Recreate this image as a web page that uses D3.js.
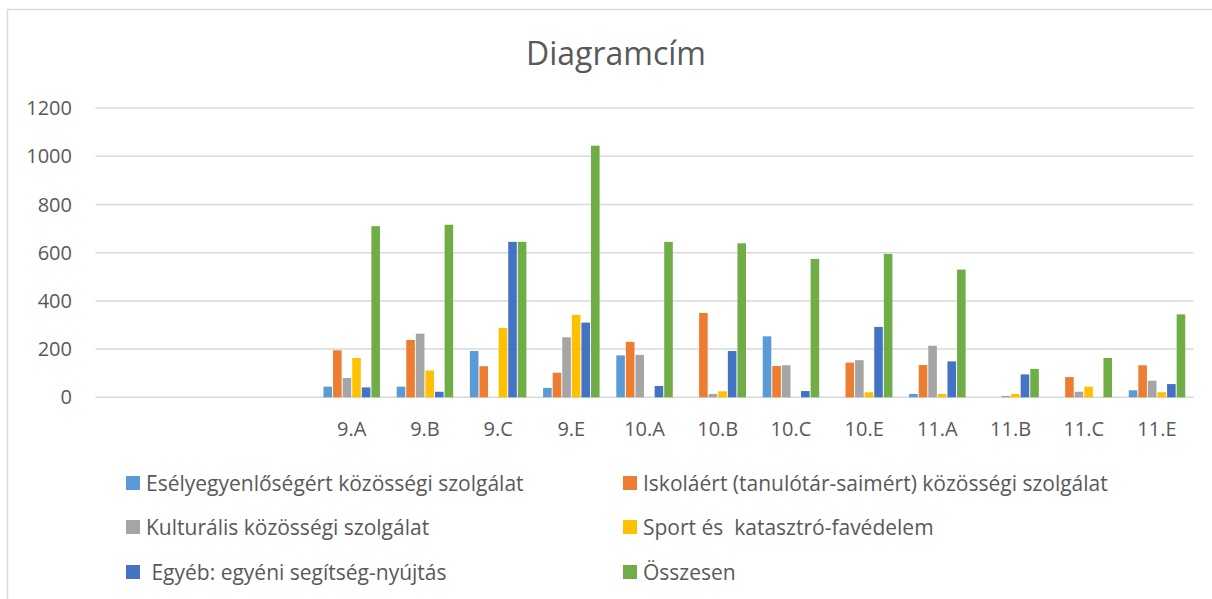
<!DOCTYPE html>
<html>
<head>
<meta charset="utf-8">
<script src="https://cdn.jsdelivr.net/npm/d3@7"></script>
<style>
  body { margin: 0; background: #fff; }
  text { font-family: "Open Sans", "Noto Sans", sans-serif; fill: #595959; white-space: pre; }
</style>
</head>
<body>
<div id="chart"></div>
<script>
// categories (first three are blank in the original sheet)
var categories = ['', ' ', '  ', '9.A', '9.B', '9.C', '9.E', '10.A', '10.B', '10.C', '10.E', '11.A', '11.B', '11.C', '11.E'];
var seriesNames = [
  'Esélyegyenlőségért közösségi szolgálat',
  'Iskoláért (tanulótár-saimért) közösségi szolgálat',
  'Kulturális közösségi szolgálat',
  'Sport és  katasztró-favédelem',
  ' Egyéb: egyéni segítség-nyújtás',
  'Összesen'
];
var colors = ['#5B9BD5', '#ED7D31', '#A5A5A5', '#FFC000', '#4472C4', '#70AD47'];

var esely    = [0, 0, 0, 44, 44, 192, 39, 174, 0, 253, 0, 14, 0, 0, 29];
var iskola   = [0, 0, 0, 195, 238, 129, 102, 230, 350, 130, 144, 134, 0, 84, 133];
var kultura  = [0, 0, 0, 80, 264, 0, 249, 176, 14, 133, 154, 214, 6, 23, 69];
var sport    = [0, 0, 0, 163, 111, 288, 342, 0, 25, 0, 21, 14, 14, 44, 21];
var egyeb    = [0, 0, 0, 41, 23, 645, 310, 47, 192, 26, 292, 149, 95, 0, 55];
var osszesen = [0, 0, 0, 710, 716, 645, 1044, 645, 639, 574, 595, 530, 118, 163, 344];

var yTicks = [0, 200, 400, 600, 800, 1000, 1200];

var seriesValues = [esely, iskola, kultura, sport, egyeb, osszesen];

var W = 1212, H = 599;
var svg = d3.select('#chart').append('svg')
  .attr('width', W).attr('height', H);

// chart frame (runs off the right and bottom like the screenshot)
svg.append('rect')
  .attr('x', 7.5).attr('y', 9.5)
  .attr('width', W + 20).attr('height', H + 20)
  .attr('fill', 'none').attr('stroke', '#D9D9D9').attr('stroke-width', 1.5);

svg.append('text')
  .attr('x', 616).attr('y', 65)
  .attr('text-anchor', 'middle')
  .style('font-size', '32px')
  .text('Diagramcím');

var x0 = d3.scaleBand().domain(categories).range([95.5, 1193.6]);
var x1 = d3.scaleBand().domain(d3.range(seriesNames.length))
  .range([0, x0.bandwidth()]).paddingOuter(0.82);
var y = d3.scaleLinear().domain([0, 1200]).range([397.3, 108.1]);

// gridlines
svg.append('g').selectAll('line')
  .data(yTicks)
  .enter().append('line')
  .attr('x1', 95.5).attr('x2', 1193.6)
  .attr('y1', function (d) { return y(d); })
  .attr('y2', function (d) { return y(d); })
  .attr('stroke', '#D9D9D9').attr('stroke-width', 1.5);

// y tick labels
svg.append('g').selectAll('text')
  .data(yTicks)
  .enter().append('text')
  .attr('x', 72).attr('y', function (d) { return y(d) + 7; })
  .attr('text-anchor', 'end')
  .style('font-size', '20px')
  .text(function (d) { return d; });

// bars
var groups = svg.append('g').selectAll('g')
  .data(categories)
  .enter().append('g')
  .attr('transform', function (d) { return 'translate(' + x0(d) + ',0)'; });

groups.selectAll('rect')
  .data(function (d, ci) {
    return seriesValues.map(function (vals, si) { return { s: si, v: vals[ci] }; })
      .filter(function (e) { return e.v > 0; });
  })
  .enter().append('rect')
  .attr('x', function (d) { return x1(d.s) + 0.5; })
  .attr('width', x1.bandwidth() - 1)
  .attr('y', function (d) { return y(d.v); })
  .attr('height', function (d) { return y(0) - y(d.v); })
  .attr('fill', function (d) { return colors[d.s]; });

// category labels
svg.append('g').selectAll('text')
  .data(categories)
  .enter().append('text')
  .attr('x', function (d) { return x0(d) + x0.bandwidth() / 2; })
  .attr('y', 436)
  .attr('text-anchor', 'middle')
  .style('font-size', '20px')
  .text(function (d) { return d; });

// legend
var legendCols = [126, 623];
var legendRows = [483, 527, 572];
var legend = svg.append('g').selectAll('g')
  .data(seriesNames)
  .enter().append('g')
  .attr('transform', function (d, i) {
    return 'translate(' + legendCols[i % 2] + ',' + legendRows[Math.floor(i / 2)] + ')';
  });
legend.append('rect')
  .attr('x', 0).attr('y', -7)
  .attr('width', 14).attr('height', 14)
  .attr('fill', function (d, i) { return colors[i]; });
legend.append('text')
  .attr('x', 20).attr('y', 8)
  .style('font-size', '21px')
  .text(function (d) { return d; });
</script>
</body>
</html>
